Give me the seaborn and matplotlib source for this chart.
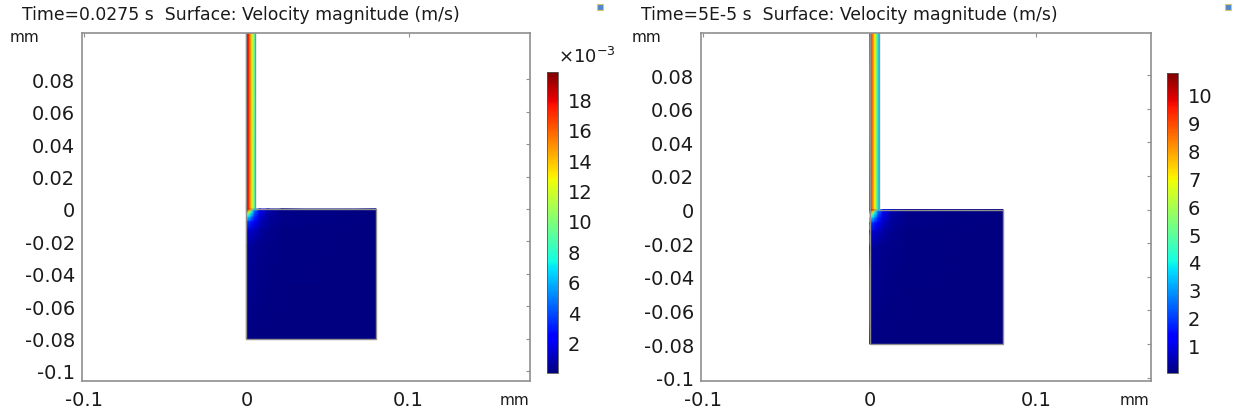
import numpy as np
import matplotlib
matplotlib.use("Agg")
import matplotlib.pyplot as plt
from matplotlib.patches import Rectangle
import seaborn as sns

sns.set_style("white")
plt.rcParams['font.family'] = ['DejaVu Sans']

# ---------------- data ----------------
titles = ["Time=0.0275 s  Surface: Velocity magnitude (m/s)",
          "Time=5E-5 s  Surface: Velocity magnitude (m/s)"]
vmax = [19.76e-3, 10.78]                       # colour range top (m/s)
cbar_ticks = [[0.002, 0.004, 0.006, 0.008, 0.010, 0.012, 0.014, 0.016, 0.018],
              [1, 2, 3, 4, 5, 6, 7, 8, 9, 10]]
cbar_labels = [["2", "4", "6", "8", "10", "12", "14", "16", "18"],
               ["1", "2", "3", "4", "5", "6", "7", "8", "9", "10"]]
axis_ticks = [-0.1, 0, 0.1]
axis_tick_labels = ["-0.1", "0", "0.1"]
yticks = [-0.1, -0.08, -0.06, -0.04, -0.02, 0, 0.02, 0.04, 0.06, 0.08]
ytick_labels = ["-0.1", "-0.08", "-0.06", "-0.04", "-0.02", "0",
                "0.02", "0.04", "0.06", "0.08"]

# geometry (mm)
channel_w = 0.0053
chamber = 0.08

# velocity across the channel (fraction of vmax) at these x positions
channel_x = [0.0, 0.001, 0.002, 0.003, 0.004, 0.0053]
channel_u = [[0.97, 0.90, 0.80, 0.70, 0.58, 0.40],
             [0.90, 0.84, 0.76, 0.66, 0.50, 0.32]]

# velocity in the chamber near the inlet corner (fraction of vmax)
grid_x = [0.0, 0.0015, 0.003, 0.005, 0.008, 0.013, 0.022, 0.08]
grid_y = [0.0, -0.0015, -0.003, -0.005, -0.008, -0.013, -0.022, -0.08]
grid_u = [[1.00, 0.90, 0.75, 0.40, 0.12, 0.04, 0.01, 0.0],
          [0.88, 0.68, 0.42, 0.22, 0.10, 0.04, 0.01, 0.0],
          [0.60, 0.50, 0.35, 0.20, 0.09, 0.035, 0.01, 0.0],
          [0.38, 0.34, 0.26, 0.16, 0.08, 0.03, 0.01, 0.0],
          [0.20, 0.18, 0.15, 0.11, 0.06, 0.025, 0.008, 0.0],
          [0.09, 0.08, 0.07, 0.055, 0.035, 0.018, 0.006, 0.0],
          [0.03, 0.028, 0.025, 0.02, 0.015, 0.01, 0.004, 0.0],
          [0.0, 0.0, 0.0, 0.0, 0.0, 0.0, 0.0, 0.0]]

# ---------------- layout ----------------
W, H = 1238, 414
fig = plt.figure(figsize=(W / 100, H / 100), dpi=100)
cmap = matplotlib.colormaps["jet"]

ax_px = [(81.7, 34, 530, 381.7), (700.7, 34, 1150.7, 381.7)]
cb_px = [(546.7, 73.3, 558.3, 374.3), (1166.7, 74, 1178.3, 374.3)]
xlims = [(-0.1016, 0.1749), (-0.1016, 0.1687)]
ylims = [(-0.106, 0.1086), (-0.1018, 0.105)]
title_x = [22, 641]
mm_top_x = [10, 632]
mm_bot_x = [500, 1120]


def frac(box):
    x0, y0, x1, y1 = box
    return [x0 / W, 1 - y1 / H, (x1 - x0) / W, (y1 - y0) / H]


grey = "#8f8f8f"
for k in range(2):
    ax = fig.add_axes(frac(ax_px[k]))
    cax = fig.add_axes(frac(cb_px[k]))
    vm = vmax[k]

    # channel
    cx = np.array(channel_x)
    CX = np.vstack([cx, cx])
    CY = np.vstack([np.zeros_like(cx), np.full_like(cx, 0.13)])
    cu = np.array(channel_u[k]) * vm
    CU = np.vstack([cu, cu])
    ax.pcolormesh(CX, CY, CU, cmap=cmap, vmin=0, vmax=vm, shading="gouraud")

    # chamber
    GX, GY = np.meshgrid(grid_x, grid_y)
    GU = np.array(grid_u) * vm
    m = ax.pcolormesh(GX, GY, GU, cmap=cmap, vmin=0, vmax=vm, shading="gouraud")

    # geometry outline
    ax.plot([0, 0, chamber, chamber, channel_w, channel_w],
            [0.13, -chamber, -chamber, 0, 0, 0.13],
            color=grey, lw=1.0, solid_joinstyle="miter")

    ax.set_xlim(*xlims[k])
    ax.set_ylim(*ylims[k])
    ax.set_xticks(axis_ticks)
    ax.set_xticklabels(axis_tick_labels)
    ax.set_yticks(yticks)
    ax.set_yticklabels(ytick_labels)
    ax.tick_params(direction="in", length=3, width=0.8, color=grey,
                   labelsize=14, top=True, right=True, pad=5,
                   labelcolor="#1a1a1a")
    ax.tick_params(axis="x", pad=7)
    for s in ax.spines.values():
        s.set_color(grey)
        s.set_linewidth(1.2)

    cb = fig.colorbar(m, cax=cax)
    cb.set_ticks(cbar_ticks[k])
    cb.set_ticklabels(cbar_labels[k])
    cb.ax.tick_params(direction="in", length=3, width=0.6, color="#333333",
                      labelsize=14, pad=7, left=True, right=True,
                      labelcolor="#1a1a1a")
    cb.outline.set_edgecolor("#555555")
    cb.outline.set_linewidth(0.6)

    fig.text(title_x[k] / W, 1 - 15 / H, titles[k], fontsize=12.4,
             va="center", ha="left", color="#1a1a1a")
    fig.text(mm_top_x[k] / W, 1 - 37 / H, "mm", fontsize=11,
             va="center", ha="left", color="#1a1a1a")
    fig.text(mm_bot_x[k] / W, 1 - 401 / H, "mm", fontsize=11,
             va="center", ha="left", color="#1a1a1a")

fig.text(558 / W, 1 - 57 / H, r"$\times10^{-3}$", fontsize=13,
         va="center", ha="left", color="#1a1a1a")

for xp in (597, 1225):
    fig.add_artist(Rectangle((xp / W, 1 - 11 / H), 6 / W, 6 / H,
                             facecolor="#4f86d0", edgecolor="#d8c86a",
                             lw=0.8, transform=fig.transFigure))

fig.savefig("out.png", dpi=100)
